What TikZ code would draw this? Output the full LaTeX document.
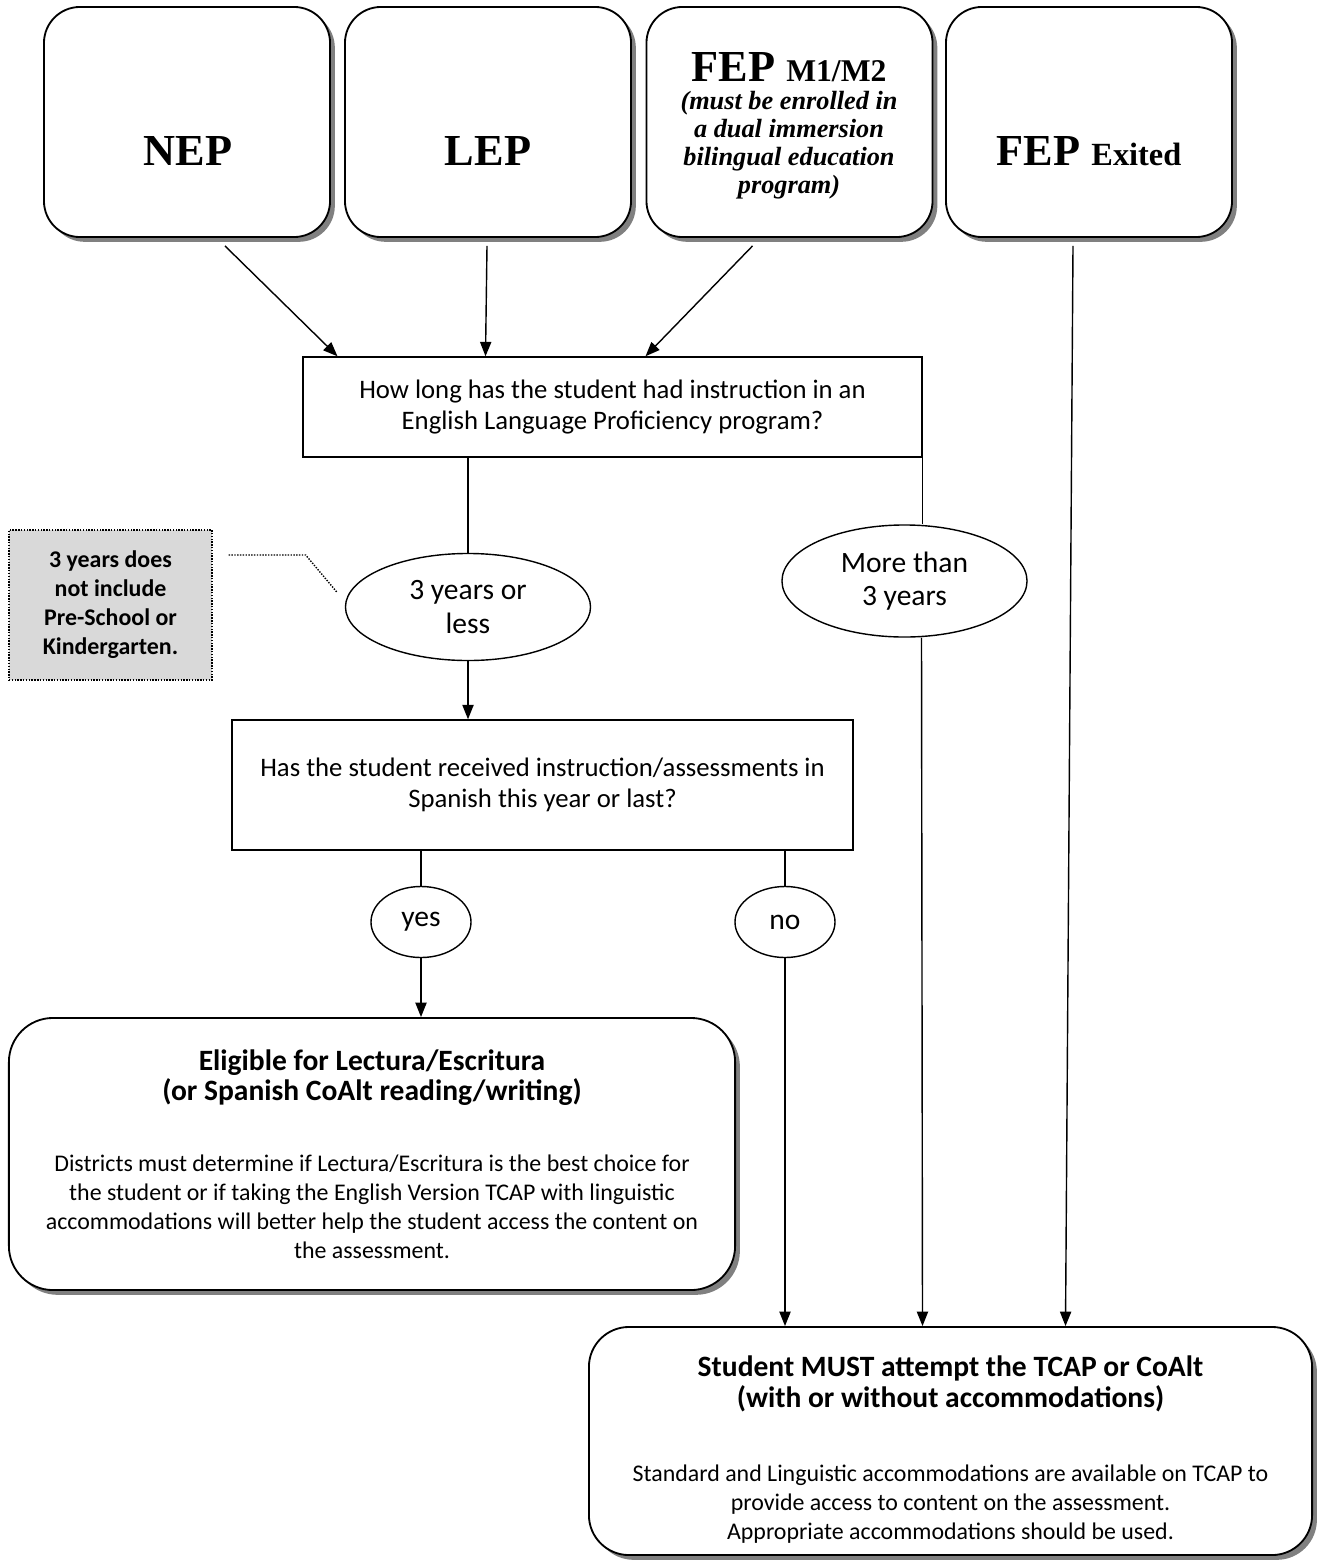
\documentclass[tikz,border=0pt]{standalone}
\usepackage{fontspec}
\setmainfont{Carlito}
\newfontfamily\serifbold{Liberation Serif}
\usetikzlibrary{shapes.geometric, arrows.meta, positioning, calc, shadows}

\newcommand\ttlfont{\bfseries\fontsize{21}{23}\selectfont}
\newcommand\bdyfont{\mdseries\fontsize{17}{20.6}\selectfont}

\tikzset{
  topbox/.style={draw, line width=1.3pt, rounded corners=0.9cm, fill=white,
    minimum width=7.15cm, minimum height=5.75cm,
    drop shadow={shadow xshift=0.12cm, shadow yshift=-0.12cm, fill=black!50, opacity=1}},
  toptxt/.style={font=\serifbold\bfseries\fontsize{31.5}{34}\selectfont, align=center, inner sep=0pt},
  bigbox/.style={draw, line width=1.3pt, rounded corners=1.1cm, fill=white, align=center,
    font=\bdyfont,
    drop shadow={shadow xshift=0.12cm, shadow yshift=-0.12cm, fill=black!50, opacity=1}},
  qbox/.style={draw, line width=1pt, fill=white, align=center, font=\fontsize{19}{22}\selectfont},
  answer/.style={draw, ellipse, line width=1pt, inner sep=0pt, align=center,
    font=\fontsize{21}{23.5}\selectfont},
  notebox/.style={draw, line width=0.9pt, dash pattern=on 1pt off 1pt, fill=black!15,
    align=center, font=\bfseries\fontsize{17}{20.6}\selectfont},
  link/.style={line width=1pt},
  arr/.style={line width=1pt, -{Triangle[length=0.36cm, width=0.28cm]}}
}

\begin{document}
\begin{tikzpicture}[x=0.025cm, y=0.025cm]
\useasboundingbox (0,0) rectangle (1318,-1564);

% top row of categories
\node[topbox] (nep) at (187,-122) {};
\node[topbox] (lep) at (488,-122) {};
\node[topbox] (fepm) at (789.5,-122) {};
\node[topbox] (fepx) at (1089,-122) {};
\node[toptxt] (neptxt) at (188,-151) {NEP};
\node[toptxt] (leptxt) at (488,-151) {LEP};
\node[toptxt, font=\serifbold\bfseries\itshape\fontsize{18.7}{20}\selectfont] (fepmtxt) at (789,-126)
  {\upshape\fontsize{31.5}{34}\selectfont FEP \fontsize{22.5}{24}\selectfont M1/M2\\
   \itshape\fontsize{18.7}{20}\selectfont (must be enrolled in\\a dual immersion\\bilingual education\\program)};
\node[toptxt] (fepxtxt) at (1089,-151) {FEP \fontsize{23}{24}\selectfont Exited};

% questions
\node[qbox, minimum width=15.475cm, minimum height=2.5cm] (q1) at (612.5,-407)
  {How long has the student had instruction in an\\English Language Proficiency program?};
\node[answer, minimum width=6.125cm, minimum height=2.675cm] (less) at (468,-607) {3 years or\\less};
\node[answer, minimum width=6.125cm, minimum height=2.8cm] (more) at (904.5,-581) {More than\\3 years};
\node[notebox, minimum width=5.075cm, minimum height=3.75cm] (note) at (110.5,-605)
  {3 years does\\not include\\Pre-School or\\Kindergarten.};

\node[qbox, minimum width=15.525cm, minimum height=3.25cm] (q2) at (542.5,-785)
  {Has the student received instruction/assessments in\\Spanish this year or last?};
\node[answer, minimum width=2.5cm, minimum height=1.775cm] (yes) at (421,-922) {yes};
\node[answer, minimum width=2.5cm, minimum height=1.775cm] (no) at (785,-922) {no};

% outcomes
\node[bigbox, minimum width=18.15cm, minimum height=6.8cm] (elig) at (372,-1154)
  {\ttlfont Eligible for Lectura/Escritura\\[1pt]
   \ttlfont (or Spanish CoAlt reading/writing)\\[30pt]
   \bdyfont Districts must determine if Lectura/Escritura is the best choice for\\
   \bdyfont the student or if taking the English Version TCAP with linguistic\\
   \bdyfont accommodations will better help the student access the content on\\
   \bdyfont the assessment.};
\node[bigbox, rounded corners=1cm, minimum width=18.075cm, minimum height=5.7cm] (final) at (950.5,-1441)
  {\ttlfont\rule{0pt}{27pt}Student MUST attempt the TCAP or CoAlt\\[1pt]
   \ttlfont (with or without accommodations)\\[32pt]
   \bdyfont Standard and Linguistic accommodations are available on TCAP to\\
   \bdyfont provide access to content on the assessment.\\
   \bdyfont Appropriate accommodations should be used.};

% connectors
\draw[arr] ($(nep.south)+(38,-8)$) -- ($(q1.north)+(-275,0)$);
\draw[arr] ($(lep.south)+(-1,-8)$) -- ($(q1.north)+(-127,0)$);
\draw[arr] ($(fepm.south)+(-37,-8)$) -- ($(q1.north)+(33,0)$);
\draw[arr] ($(fepx.south)+(-16,-8)$) -- ($(final.north)+(115,0)$);

\draw[link] (q1.south -| less.north) -- (less.north);
\draw[link] (q1.south east) -- (q1.south east |- more.north);
\draw[arr] ($(more.south)+(17,0)$) -- ($(final.north)+(-28,0)$);
\draw[link, dash pattern=on 1pt off 1pt] ($(note.east)+(16,50)$) -- ++(77,0) -- ($(less.west)+(-8,15)$);

\draw[arr] (less.south) -- (less.south |- q2.north);
\draw[link] (yes.north |- q2.south) -- (yes.north);
\draw[link] (no.north |- q2.south) -- (no.north);
\draw[arr] (yes.south) -- (yes.south |- elig.north);
\draw[arr] (no.south) -- (no.south |- final.north);
\end{tikzpicture}
\end{document}
